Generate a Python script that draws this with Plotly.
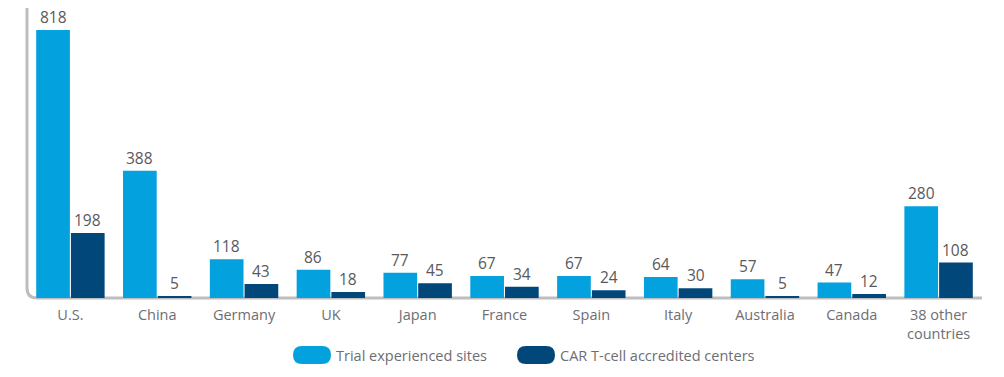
import plotly.graph_objects as go

categories = ["U.S.", "China", "Germany", "UK", "Japan", "France", "Spain", "Italy",
              "Australia", "Canada", "38 other<br>countries"]
trial_sites = [818, 388, 118, 86, 77, 67, 67, 64, 57, 47, 280]
car_t_centers = [198, 5, 43, 18, 45, 34, 24, 30, 5, 12, 108]
series_names = ["Trial experienced sites", "CAR T-cell accredited centers"]
colors = ["#03A2DE", "#02477A"]

OFF = 8  # page body margin
W, H = 1004 - OFF, 377 - OFF
L, R, T, B = 27 - OFF, 22, 8 - OFF, 79
pw, ph = W - L - R, H - T - B
BARGAP, GROUPGAP = 0.2, 0.03

fig = go.Figure()
for name, vals, col in zip(series_names, [trial_sites, car_t_centers], colors):
    fig.add_trace(go.Bar(
        x=categories, y=vals, name=name, marker=dict(color=col, line=dict(width=0)),
    ))

# value labels as annotations above each bar
cat_px = pw / len(categories)
half_off = cat_px * (1 - BARGAP) / 4
for sign, vals in zip([-1, 1], [trial_sites, car_t_centers]):
    for c, v in zip(categories, vals):
        fig.add_annotation(x=c, y=v, xref="x", yref="y", text=str(v), showarrow=False,
                           xanchor="center", yanchor="middle", yshift=13,
                           xshift=sign * half_off,
                           font=dict(color="#58595D", size=15.5, family="Open Sans"))

fig.update_layout(
    width=W, height=H, margin=dict(l=L, r=R, t=T, b=B),
    plot_bgcolor="white", paper_bgcolor="white",
    barmode="group", bargap=BARGAP, bargroupgap=GROUPGAP,
    showlegend=False,
    font=dict(family="Open Sans", color="#6D6E73", size=14.5),
    xaxis=dict(showline=False, showgrid=False, ticks="outside", ticklen=4,
               tickcolor="rgba(0,0,0,0)", tickfont=dict(size=14.5, color="#6D6E73")),
    yaxis=dict(range=[0, 885], visible=False, showgrid=False),
)

# Axis lines with rounded corner
rx, ry = 10 / pw, 10 / ph
fig.add_shape(type="path", xref="paper", yref="paper", layer="below",
              path=f"M 0,1 L 0,{ry} Q 0,0 {rx},0 L 1,0",
              line=dict(color="#BDBEC1", width=3))

# Custom legend with pill markers (screen pixel coords -> paper)
def px_to_paper_x(px):
    return (px - OFF - L) / pw

def py_to_paper_y(py):
    return (H - B - (py - OFF)) / ph

pill = "M 9,9 L 29,9 Q 38,9 38,0 Q 38,-9 29,-9 L 9,-9 Q 0,-9 0,0 Q 0,9 9,9 Z"
legend_items = [(293, 336, series_names[0], colors[0]), (517, 560, series_names[1], colors[1])]
for x0, tx, name, col in legend_items:
    fig.add_shape(type="path", xref="paper", yref="paper",
                  xsizemode="pixel", ysizemode="pixel",
                  xanchor=px_to_paper_x(x0), yanchor=py_to_paper_y(355),
                  path=pill, fillcolor=col, line=dict(width=0))
    fig.add_annotation(x=px_to_paper_x(tx), y=py_to_paper_y(355), xref="paper", yref="paper",
                       text=name, showarrow=False, xanchor="left", yanchor="middle",
                       xshift=-2, font=dict(size=14.5, color="#6D6E73", family="Open Sans"))

fig.write_html("out.html")
